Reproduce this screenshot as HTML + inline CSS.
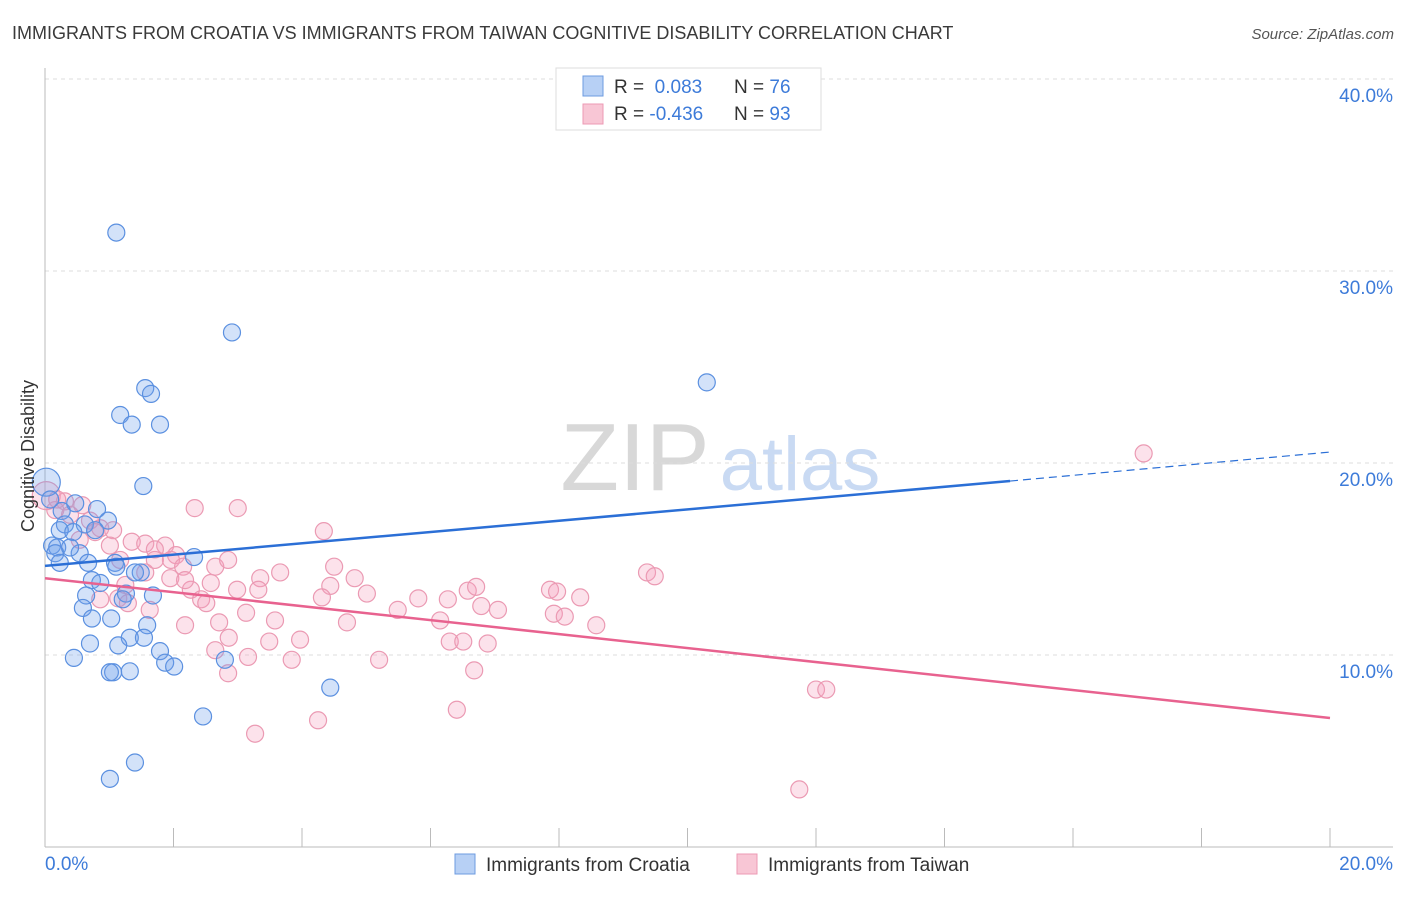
<!DOCTYPE html>
<html><head><meta charset="utf-8"><style>
body{margin:0;background:#fff;font-family:"Liberation Sans",sans-serif}
svg text{font-family:"Liberation Sans",sans-serif}
</style></head><body>
<svg width="1406" height="892" viewBox="0 0 1406 892">
<text x="12" y="39" font-size="18" fill="#3a3a3a">IMMIGRANTS FROM CROATIA VS IMMIGRANTS FROM TAIWAN COGNITIVE DISABILITY CORRELATION CHART</text>
<text x="1394" y="39" font-size="15" font-style="italic" fill="#555" text-anchor="end">Source: ZipAtlas.com</text>
<g>
<text x="635" y="490" font-size="96" font-family="Liberation Serif,serif" fill="#d8d8d8" text-anchor="middle">ZIP</text>
<text x="800" y="490" font-size="76" fill="#c9daf3" text-anchor="middle">atlas</text>
</g>
<g id="grid"></g>
<g id="axes"></g>
<g id="marks"></g>
<text transform="translate(34,456) rotate(-90)" font-size="18" fill="#333" text-anchor="middle">Cognitive Disability</text>
<g>
<rect x="556" y="68" width="265" height="62" fill="#fff" stroke="#ddd"/>
<rect x="583" y="76" width="20" height="20" fill="#b7d0f5" stroke="#6d9be0"/>
<rect x="583" y="104" width="20" height="20" fill="#f8c6d5" stroke="#ec9ab4"/>
<text x="614" y="93" font-size="19" fill="#333">R = <tspan fill="#3d7bd9">&#160;0.083</tspan><tspan x="734">N = </tspan><tspan fill="#3d7bd9">76</tspan></text>
<text x="614" y="120" font-size="19" fill="#333">R = <tspan fill="#3d7bd9">-0.436</tspan><tspan x="734">N = </tspan><tspan fill="#3d7bd9">93</tspan></text>
</g>
<g>
<rect x="455" y="854" width="20" height="20" fill="#b7d0f5" stroke="#6d9be0"/>
<text x="486" y="871" font-size="19" fill="#333">Immigrants from Croatia</text>
<rect x="737" y="854" width="20" height="20" fill="#f8c6d5" stroke="#ec9ab4"/>
<text x="768" y="871" font-size="19" fill="#333">Immigrants from Taiwan</text>
</g>
</svg>
<script>
const yTicks=[10,20,30,40];
const yTickLabels=["10.0%","20.0%","30.0%","40.0%"];
const xTickLabels=["0.0%","20.0%"];
const blueX=[1.11,2.91,1.56,1.65,10.30,1.17,1.35,1.79,1.53,0.02,0.47,0.81,0.26,0.98,0.31,0.62,0.78,0.23,0.44,0.11,0.19,0.54,0.16,0.23,0.67,1.09,1.11,2.32,1.49,1.40,0.73,0.86,1.26,1.68,0.64,1.21,0.59,1.03,0.73,1.59,1.32,1.54,0.70,1.14,0.45,1.79,1.87,2.01,2.80,1.32,1.06,1.01,4.44,2.46,1.40,1.01,0.39,0.08];
const blueY=[32.0,26.8,23.9,23.6,24.2,22.5,22.0,22.0,18.8,19.0,17.9,17.6,17.5,17.0,16.8,16.8,16.5,16.5,16.4,15.7,15.6,15.3,15.3,14.8,14.8,14.8,14.6,15.1,14.3,14.3,13.9,13.75,13.2,13.1,13.1,12.9,12.45,11.9,11.9,11.55,10.9,10.9,10.6,10.5,9.85,10.2,9.6,9.4,9.75,9.15,9.1,9.1,8.3,6.8,4.4,3.55,15.6,18.1];
const pinkX=[17.10,2.33,3.00,4.34,0.02,0.31,0.58,0.16,0.39,0.70,1.06,0.86,1.35,1.56,1.87,1.71,2.04,1.96,2.15,2.65,2.85,3.35,3.66,3.32,2.99,2.27,2.43,2.51,2.71,3.13,3.58,2.86,3.49,3.97,3.84,3.16,2.85,3.27,2.58,1.56,1.25,1.14,1.29,1.95,2.18,4.50,4.44,4.31,4.82,4.70,5.01,5.20,5.49,5.81,6.15,6.27,6.30,6.41,6.51,6.58,6.68,6.71,6.79,6.89,7.05,7.86,7.97,7.92,8.09,8.33,8.58,9.37,9.49,12.00,12.16,11.74,4.25,1.71,0.86,1.01,0.54,0.78,0.19,1.63,2.18,2.65,1.17];
const pinkY=[20.5,17.65,17.65,16.45,18.3,18.0,17.8,17.55,17.3,17.0,16.5,16.6,15.9,15.8,15.7,15.5,15.2,14.95,14.6,14.6,14.95,14.0,14.3,13.4,13.4,13.4,12.9,12.7,11.7,12.2,11.8,10.9,10.7,10.8,9.75,9.9,9.05,5.9,13.75,14.3,13.65,12.95,12.7,14.0,13.9,14.6,13.6,13.0,14.0,11.7,13.2,9.75,12.35,12.95,11.8,12.9,10.7,7.15,10.7,13.35,9.2,13.55,12.55,10.6,12.35,13.4,13.3,12.15,12.0,13.0,11.55,14.3,14.1,8.2,8.2,3.0,6.6,14.95,12.9,15.7,16.0,16.4,18.1,12.35,11.55,10.25,14.95];
const blueTrend=[[0,14.64],[15.02,19.06],[20,20.57]];
const pinkTrend=[[0,14.0],[20,6.72]];
const X0=45,X1=1330,YB=847,PXPERPCT=19.2;
const sx=v=>X0+(X1-X0)*v/20;
const sy=v=>YB-v*PXPERPCT;
const NS="http://www.w3.org/2000/svg";
function mk(tag,attrs,parent){const e=document.createElementNS(NS,tag);for(const k in attrs)e.setAttribute(k,attrs[k]);parent.appendChild(e);return e;}
const grid=document.getElementById('grid'),axes=document.getElementById('axes'),marks=document.getElementById('marks');
yTicks.forEach((t,i)=>{
 const l=mk('line',{x1:45,x2:1393,y1:sy(t),y2:sy(t),stroke:'#ddd','stroke-dasharray':'4,4'},grid);
 
 
 const tx=mk('text',{x:1393,y:sy(t)+23,'font-size':19,fill:'#3d7bd9','text-anchor':'end'},axes);
 tx.textContent=yTickLabels[i];
 
 
});
mk('line',{x1:45,x2:45,y1:68,y2:847,stroke:'#bbb'},axes);
mk('line',{x1:45,x2:1393,y1:847,y2:847,stroke:'#bbb'},axes);
for(let i=1;i<=10;i++){const x=sx(i*2);mk('line',{x1:x,x2:x,y1:828,y2:847,stroke:'#bbb'},axes);}
const xl0=mk('text',{x:45,y:870,'font-size':19,fill:'#3d7bd9'},axes);xl0.textContent=xTickLabels[0];


const xl1=mk('text',{x:1393,y:870,'font-size':19,fill:'#3d7bd9','text-anchor':'end'},axes);xl1.textContent=xTickLabels[1];


pinkX.forEach((v,i)=>{
 const c=mk('circle',{cx:sx(v),cy:sy(pinkY[i]),r:i===4?14:8.5,fill:'rgba(244,160,188,0.3)',stroke:'#eb9ab3','stroke-width':1.2},marks);
 
 
});
blueX.forEach((v,i)=>{
 const c=mk('circle',{cx:sx(v),cy:sy(blueY[i]),r:i===9?14:8.5,fill:'rgba(110,160,235,0.3)',stroke:'#5b90e0','stroke-width':1.2},marks);
 
 
});
const bt=mk('line',{x1:sx(blueTrend[0][0]),y1:sy(blueTrend[0][1]),x2:sx(blueTrend[1][0]),y2:sy(blueTrend[1][1]),stroke:'#2b6fd6','stroke-width':2.5},marks);


const bd=mk('line',{x1:sx(blueTrend[1][0]),y1:sy(blueTrend[1][1]),x2:sx(blueTrend[2][0]),y2:sy(blueTrend[2][1]),stroke:'#2b6fd6','stroke-width':1.2,'stroke-dasharray':'8,5'},marks);


const pt=mk('line',{x1:sx(pinkTrend[0][0]),y1:sy(pinkTrend[0][1]),x2:sx(pinkTrend[1][0]),y2:sy(pinkTrend[1][1]),stroke:'#e8628f','stroke-width':2.5},marks);


</script>
</body></html>
